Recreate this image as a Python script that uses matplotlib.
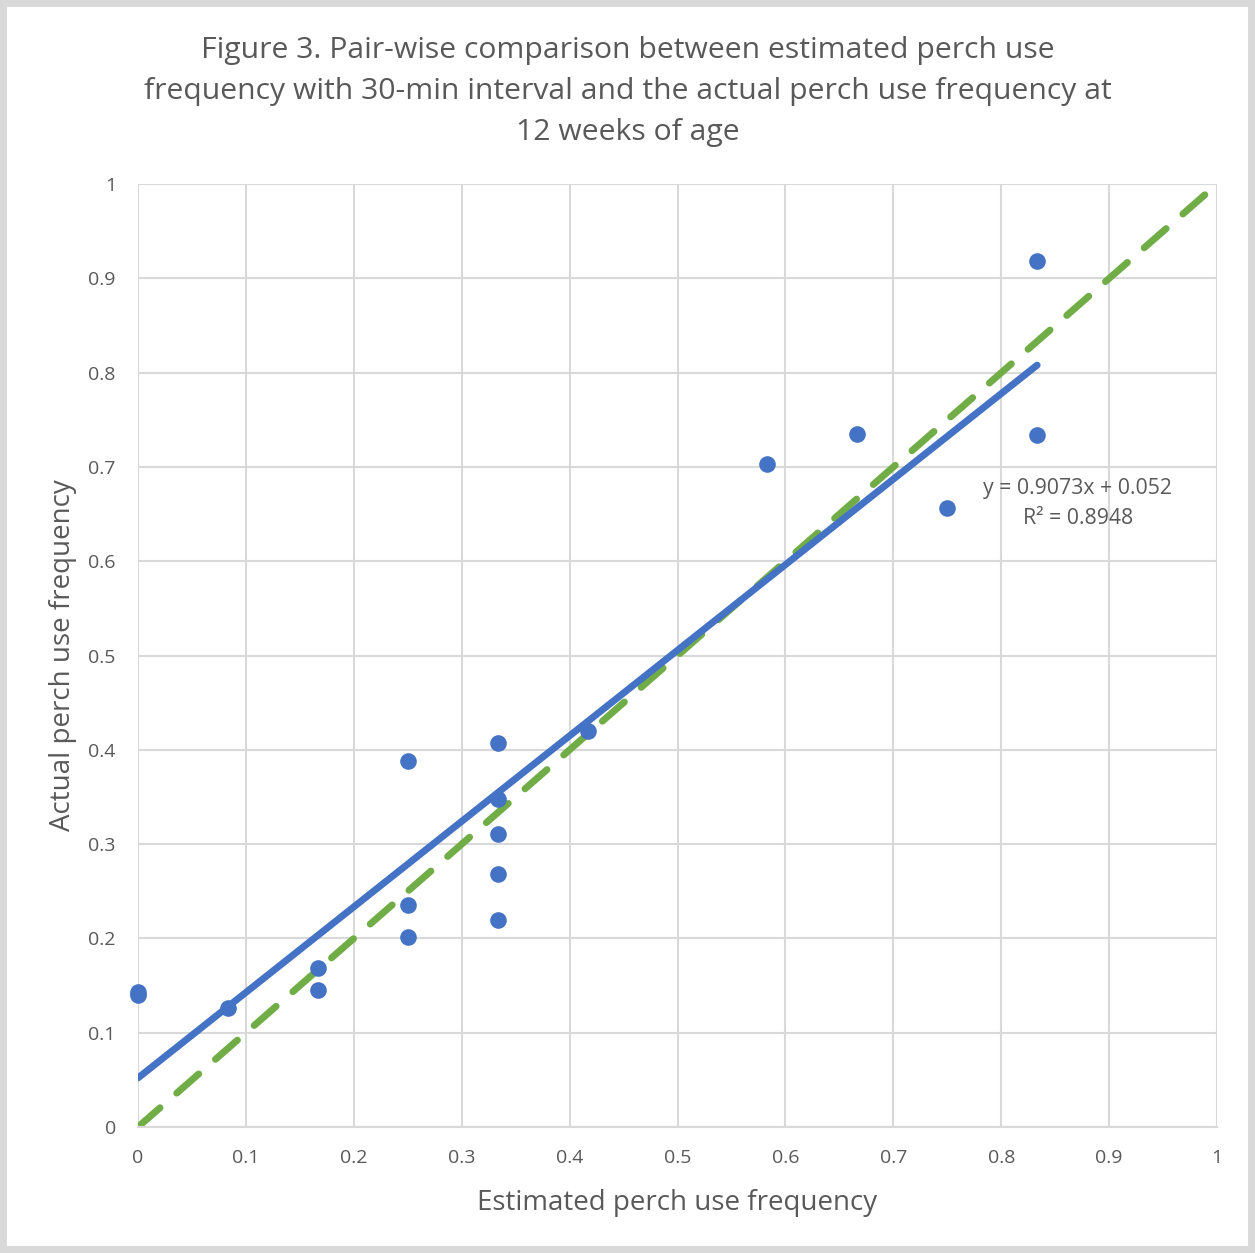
import matplotlib.pyplot as plt
from matplotlib.patches import Rectangle
import numpy as np

# estimated (30-min interval) vs actual perch use frequency
est = [0, 0, 1/12, 1/6, 1/6, 0.25, 0.25, 0.25,
       1/3, 1/3, 1/3, 1/3, 1/3, 5/12, 7/12, 2/3, 0.75, 5/6, 5/6]
actual = [0.143, 0.140, 0.126, 0.169, 0.145, 0.388, 0.235, 0.202,
          0.407, 0.348, 0.311, 0.268, 0.220, 0.420, 0.703, 0.735, 0.656, 0.919, 0.734]
slope = 0.9073
intercept = 0.052
r2 = 0.8948

plt.rcParams['font.family'] = ['Open Sans', 'DejaVu Sans']

fig = plt.figure(figsize=(12.55, 12.53), dpi=100)
fig.patches.append(Rectangle((0, 0), 1, 1, transform=fig.transFigure,
                             facecolor='none', edgecolor='#D9D9D9', linewidth=10))

ax = fig.add_axes([0.11, 0.1006, 0.8597, 0.7524])

ax.grid(True, color='#D9D9D9', linewidth=1.5)
ax.set_axisbelow(True)

# y = x reference
ax.plot([0, 1], [0, 1], color='#70AD47', linewidth=5, dashes=(4.2, 3.2),
        dash_capstyle='round', zorder=2)

# linear trend line
xs = np.array([0, max(est)])
ax.plot(xs, slope * xs + intercept, color='#4472C4', linewidth=5,
        solid_capstyle='round', zorder=3)

ax.scatter(est, actual, s=120, color='#4472C4', zorder=4, clip_on=False)

ax.text(0.871, 0.661, f'y = {slope}x + {intercept}\nR² = {r2}',
        ha='center', va='center', fontsize=15.3, color='#595959', linespacing=1.55)

ax.set_xlim(0, 1)
ax.set_ylim(0, 1)
ticks = np.arange(0, 1.01, 0.1)
labels = ['0', '0.1', '0.2', '0.3', '0.4', '0.5', '0.6', '0.7', '0.8', '0.9', '1']
ax.set_xticks(ticks)
ax.set_yticks(ticks)
ax.set_xticklabels(labels)
ax.set_yticklabels(labels)
ax.tick_params(length=0, labelsize=14, labelcolor='#595959', pad=16)
for s in ax.spines.values():
    s.set_visible(False)
ax.spines['bottom'].set_visible(True)
ax.spines['bottom'].set_color('#D9D9D9')
ax.spines['bottom'].set_linewidth(1.5)

ax.set_xlabel('Estimated perch use frequency', fontsize=20, color='#595959', labelpad=16)
ax.set_ylabel('Actual perch use frequency', fontsize=20, color='#595959', labelpad=8)

fig.text(0.5, 0.927, 'Figure 3. Pair-wise comparison between estimated perch use\n'
         'frequency with 30-min interval and the actual perch use frequency at\n'
         '12 weeks of age', ha='center', va='center', fontsize=21.7,
         color='#595959', linespacing=1.56)

fig.savefig('out.png', dpi=100)
